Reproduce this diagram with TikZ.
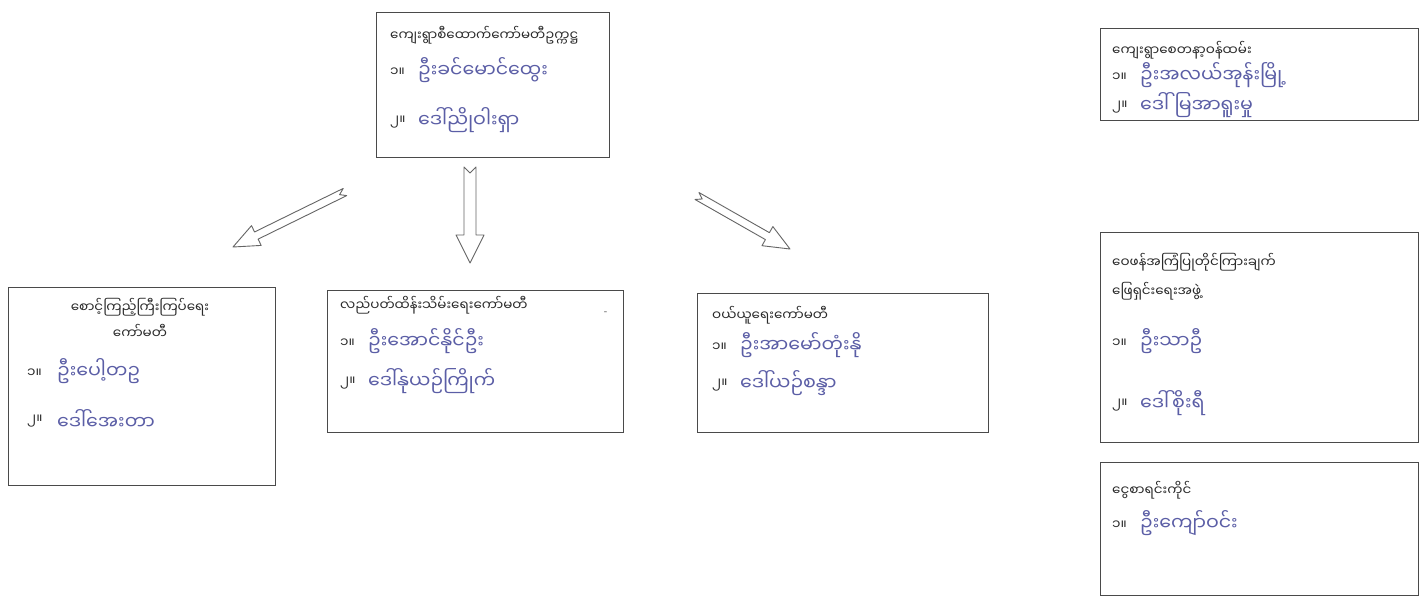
\documentclass[tikz,border=0pt]{standalone}
\usepackage{fontspec}
\newfontfamily\mm[Script=Myanmar]{Noto Sans Myanmar UI}
\usetikzlibrary{calc}
\definecolor{ink}{HTML}{5B5EA6}
\definecolor{prn}{HTML}{2A2A2A}
\definecolor{frame}{HTML}{4A4A4A}
\tikzset{
  box/.style={draw=frame, line width=1.3pt, anchor=north west, inner sep=0pt},
  ptxt/.style={anchor=west, inner sep=0pt, font=\mm\fontsize{13.5}{15}\selectfont, text=prn},
  ctxt/.style={anchor=center, inner sep=0pt, font=\mm\fontsize{13.5}{15}\selectfont, text=prn},
  htxt/.style={anchor=west, inner sep=0pt, font=\mm\fontsize{19}{21}\selectfont, text=ink},
  harrowline/.style={draw=frame!85, line width=0.9pt, line join=round, fill=white}
}
\newcommand\hollowarrow[5]{%
  \coordinate (hb) at ($(#2)!#5!(#1)$);
  \coordinate (nt) at ($(#1)!6pt!(#2)$);
  \draw[harrowline] ($(#1)!#3!90:(#2)$) -- ($(hb)!#3!90:(#2)$) -- ($(hb)!#4!90:(#2)$) -- (#2)
    -- ($(hb)!#4!-90:(#2)$) -- ($(hb)!#3!-90:(#2)$) -- ($(#1)!#3!-90:(#2)$) -- (nt) -- cycle;
}
\begin{document}
\begin{tikzpicture}[x=1pt,y=-1pt]
\useasboundingbox (0,0) rectangle (1420,598);
\fill[white] (0,0) rectangle (1420,598);

% boxes
\node[box, minimum width=233pt, minimum height=145pt] (top) at (376,12) {};
\node[box, minimum width=267pt, minimum height=198pt] (left) at (8,287) {};
\node[box, minimum width=296pt, minimum height=142pt] (mid) at (327,290) {};
\node[box, minimum width=291pt, minimum height=139pt] (buy) at (697,293) {};
\node[box, minimum width=318pt, minimum height=92pt] (r1) at (1100,28) {};
\node[box, minimum width=318pt, minimum height=210pt] (r2) at (1100,232) {};
\node[box, minimum width=318pt, minimum height=133pt] (r3) at (1100,462) {};

% top box
\node[ptxt] (t0) at (390,35) {ကျေးရွာစီထောက်ကော်မတီဥက္ကဋ္ဌ};
\node[ptxt] (t1) at (390,72) {၁။};
\node[htxt] (t1n) at (418,70) {ဦးခင်မောင်ထွေး};
\node[ptxt] (t2) at (390,122) {၂။};
\node[htxt] (t2n) at (418,120) {ဒေါ်ညိုဝါးရှာ};

% left box
\node[ctxt] (l0) at (140,307) {စောင့်ကြည့်ကြီးကြပ်ရေး};
\node[ctxt] (l0b) at (140,331) {ကော်မတီ};
\node[ptxt] (l1) at (27,373) {၁။};
\node[htxt] (l1n) at (57,371) {ဦးပေါ့တဥ};
\node[ptxt] (l2) at (27,421) {၂။};
\node[htxt] (l2n) at (57,419) {ဒေါ်အေးတာ};

% middle box
\node[ptxt] (m0) at (340,305) {လည်ပတ်ထိန်းသိမ်းရေးကော်မတီ};
\node[anchor=west, inner sep=0pt, text=prn, font=\normalfont] (m0d) at (604,313) {-};
\node[ptxt] (m1) at (340,343) {၁။};
\node[htxt] (m1n) at (368,341) {ဦးအောင်နိုင်ဦး};
\node[ptxt] (m2) at (340,383) {၂။};
\node[htxt] (m2n) at (368,381) {ဒေါ်နုယဉ်ကြိုက်};

% buying committee
\node[ptxt] (b0) at (712,315) {ဝယ်ယူရေးကော်မတီ};
\node[ptxt] (b1) at (712,347) {၁။};
\node[htxt] (b1n) at (740,345) {ဦးအာမော်တုံးနို};
\node[ptxt] (b2) at (712,385) {၂။};
\node[htxt] (b2n) at (740,383) {ဒေါ်ယဉ်စန္ဒာ};

% right box 1
\node[ptxt] (r10) at (1112,50) {ကျေးရွာစေတနာ့ဝန်ထမ်း};
\node[ptxt] (r11) at (1112,77) {၁။};
\node[htxt] (r11n) at (1140,75) {ဦးအလယ်အုန်းမြို့};
\node[ptxt] (r12) at (1112,107) {၂။};
\node[htxt] (r12n) at (1140,105) {ဒေါ်မြအာရူးမှု};

% right box 2
\node[ptxt] (r20) at (1112,262) {ဝေဖန်အကြံပြုတိုင်ကြားချက်};
\node[ptxt] (r20b) at (1112,291) {ဖြေရှင်းရေးအဖွဲ့};
\node[ptxt] (r21) at (1112,343) {၁။};
\node[htxt] (r21n) at (1140,341) {ဦးသာဦ};
\node[ptxt] (r22) at (1112,405) {၂။};
\node[htxt] (r22n) at (1140,403) {ဒေါ်စိုးရီ};

% right box 3
\node[ptxt] (r30) at (1112,490) {ငွေစာရင်းကိုင်};
\node[ptxt] (r31) at (1112,525) {၁။};
\node[htxt] (r31n) at (1140,523) {ဦးကျော်ဝင်း};

% arrows
\coordinate (la1) at (345,192);
\coordinate (la2) at (233,247);
\coordinate (ca1) at (470,167);
\coordinate (ca2) at (470,263);
\coordinate (ra1) at (697,196);
\coordinate (ra2) at (790,249);
\hollowarrow{la1}{la2}{4pt}{11pt}{26pt}
\hollowarrow{ca1}{ca2}{6pt}{14pt}{28pt}
\hollowarrow{ra1}{ra2}{4pt}{11pt}{26pt}
\end{tikzpicture}
\end{document}
